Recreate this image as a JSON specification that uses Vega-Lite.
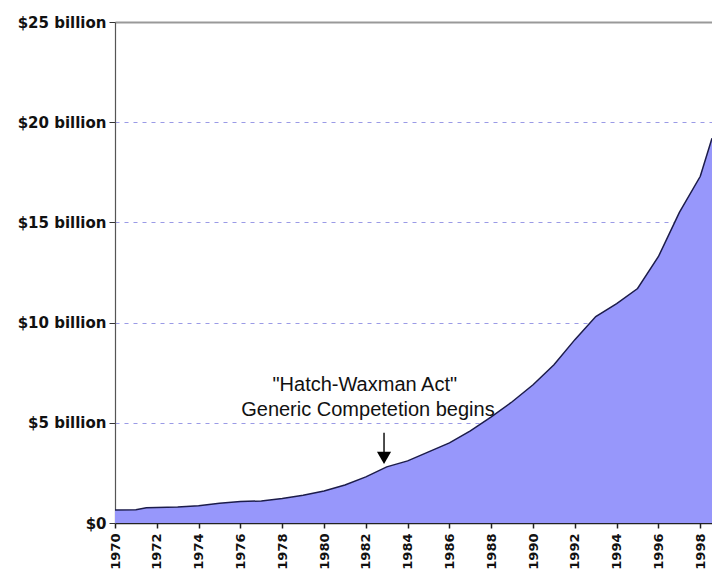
{
  "$schema": "https://vega.github.io/schema/vega-lite/v6.json",
  "width": 597,
  "height": 501,
  "autosize": {"type": "none"},
  "padding": {"left": 115, "top": 22, "right": 0, "bottom": 54},
  "background": "white",
  "config": {"view": {"stroke": null}, "font": "Liberation Sans"},
  "datasets": {
    "sales": [
      {"year": 1970, "value": 0.65},
      {"year": 1971, "value": 0.66},
      {"year": 1971.5, "value": 0.76},
      {"year": 1972, "value": 0.77},
      {"year": 1973, "value": 0.8},
      {"year": 1974, "value": 0.86},
      {"year": 1975, "value": 0.98},
      {"year": 1976, "value": 1.07},
      {"year": 1977, "value": 1.1},
      {"year": 1978, "value": 1.22},
      {"year": 1979, "value": 1.38},
      {"year": 1980, "value": 1.6},
      {"year": 1981, "value": 1.9},
      {"year": 1982, "value": 2.3},
      {"year": 1983, "value": 2.8},
      {"year": 1984, "value": 3.1},
      {"year": 1985, "value": 3.55},
      {"year": 1986, "value": 4.0},
      {"year": 1987, "value": 4.6},
      {"year": 1988, "value": 5.3},
      {"year": 1989, "value": 6.05},
      {"year": 1990, "value": 6.9},
      {"year": 1991, "value": 7.9},
      {"year": 1992, "value": 9.15},
      {"year": 1993, "value": 10.3},
      {"year": 1994, "value": 10.95},
      {"year": 1995, "value": 11.7},
      {"year": 1996, "value": 13.3},
      {"year": 1997, "value": 15.5},
      {"year": 1998, "value": 17.3},
      {"year": 1998.56, "value": 19.2}
    ]
  },
  "layer": [
    {
      "data": {"name": "sales"},
      "mark": {"type": "area", "color": "#9797fb", "opacity": 1, "line": {"color": "#1c1c4a", "strokeWidth": 1.5}},
      "encoding": {
        "x": {
          "field": "year", "type": "quantitative",
          "scale": {"domain": [1970, 1998.56], "nice": false, "zero": false},
          "axis": {
            "title": null,
            "values": [1970,1971,1972,1973,1974,1975,1976,1977,1978,1979,1980,1981,1982,1983,1984,1985,1986,1987,1988,1989,1990,1991,1992,1993,1994,1995,1996,1997,1998],
            "labelExpr": "datum.value % 2 == 0 ? datum.label : ''",
            "format": "d",
            "labelAngle": 270,
            "labelAlign": "right",
            "labelBaseline": "middle",
            "labelFont": "DejaVu Sans",
            "labelFontWeight": "bold",
            "labelFontSize": 13,
            "labelColor": "#111111",
            "labelPadding": 5,
            "domainColor": "#222222",
            "domainWidth": 1.5,
            "tickColor": "#222222",
            "tickSize": 5,
            "tickWidth": 1.5,
            "grid": false,
            "labelOverlap": false
          }
        },
        "y": {
          "field": "value", "type": "quantitative",
          "scale": {"domain": [0, 25], "nice": false},
          "axis": {
            "title": null,
            "values": [0, 5, 10, 15, 20, 25],
            "labelExpr": "datum.value == 0 ? '$0' : '$' + datum.value + ' billion'",
            "labelFont": "DejaVu Sans",
            "labelFontWeight": "bold",
            "labelFontSize": 15,
            "labelColor": "#111111",
            "labelPadding": 3,
            "domainColor": "#555555",
            "domainWidth": 1.2,
            "tickColor": "#333333",
            "tickSize": 6,
            "grid": true,
            "gridColor": {"condition": {"test": "datum.value == 25", "value": "#999999"}, "value": "#9a9ae6"},
            "gridDash": {"condition": {"test": "datum.value == 25", "value": []}, "value": [4, 5]},
            "gridWidth": {"condition": {"test": "datum.value == 25", "value": 2}, "value": 1.2}
          }
        }
      }
    },
    {
      "data": {"values": [
        {"year": 1981.95, "value": 6.9, "label": "\"Hatch-Waxman Act\""},
        {"year": 1982.1, "value": 5.65, "label": "Generic Competetion begins"}
      ]},
      "mark": {"type": "text", "fontSize": 20, "color": "#111111", "align": "center", "baseline": "middle"},
      "encoding": {
        "x": {"field": "year", "type": "quantitative"},
        "y": {"field": "value", "type": "quantitative"},
        "text": {"field": "label"}
      }
    },
    {
      "data": {"values": [{"year": 1982.87, "value": 4.5, "value2": 3.4}]},
      "mark": {"type": "rule", "color": "#111111", "strokeWidth": 1.5},
      "encoding": {
        "x": {"field": "year", "type": "quantitative"},
        "y": {"field": "value", "type": "quantitative"},
        "y2": {"field": "value2"}
      }
    },
    {
      "data": {"values": [{"year": 1982.87, "value": 3.25}]},
      "mark": {"type": "point", "shape": "triangle-down", "filled": true, "color": "#000000", "size": 200, "opacity": 1},
      "encoding": {
        "x": {"field": "year", "type": "quantitative"},
        "y": {"field": "value", "type": "quantitative"}
      }
    }
  ]
}
